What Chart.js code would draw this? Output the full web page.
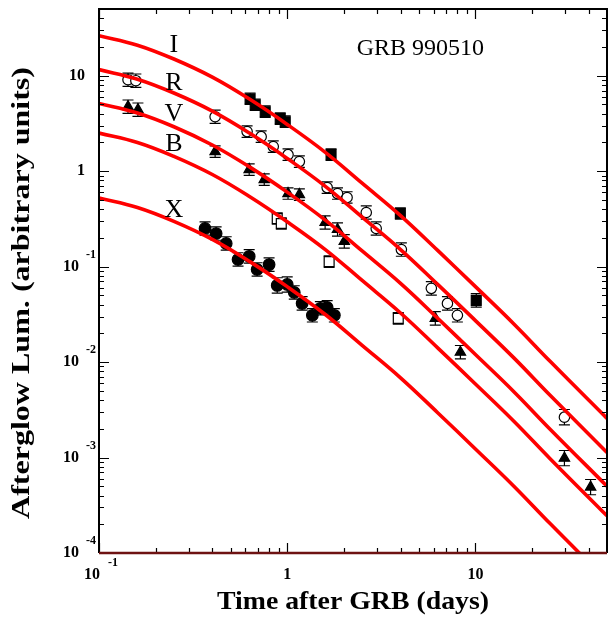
<!DOCTYPE html>
<html><head><meta charset="utf-8">
<script src="https://cdn.jsdelivr.net/npm/chart.js@4/dist/chart.umd.min.js"></script>
<style>html,body{margin:0;padding:0;background:#fff;}#wrap{width:608px;height:618px;}</style>
</head><body><div id="wrap"><canvas id="c" width="608" height="618"></canvas></div>
<script>
// ---- model curves ----
const curveDays = [0.1,0.16,0.25,0.4,0.63,1,1.6,2.5,4,6.3,10,16,25,50];
const curveI = [26.3,20.9,14.96,9.66,5.69,3.09,1.567,0.750,0.343,0.148,0.0617,0.0251,0.01012,0.00257];
const curveR = [11.59,9.20,6.59,4.26,2.51,1.36,0.690,0.330,0.151,0.0652,0.0272,0.01107,0.00446,0.00113];
const curveV = [5.13,4.07,2.92,1.88,1.109,0.603,0.305,0.146,0.0668,0.0288,0.0120,0.0049,0.00197,0.000501];
const curveB = [2.51,2.00,1.43,0.923,0.543,0.295,0.150,0.0716,0.0327,0.0141,0.00589,0.0024,0.000966,0.000245];
const curveX = [0.525,0.417,0.2985,0.193,0.1135,0.0617,0.0313,0.01496,0.00684,0.00295,0.00123,0.000501,0.000202,0.0000513];

// ---- observations ----
const daysI = [0.635,0.676,0.764,0.918,0.976,1.71,3.99,10.1];
const lumI  = [5.74,4.97,4.20,3.55,3.30,1.49,0.36,0.0443];
const errI  = [0.06,0.06,0.06,0.06,0.06,0.06,0.06,0.07];

const daysR = [0.1426,0.157,0.414,0.612,0.727,0.843,1.01,1.16,1.63,1.85,2.08,2.63,2.97,4.04,5.83,7.10,8.02,29.7];
const lumR  = [9.08,8.87,3.72,2.60,2.30,1.81,1.49,1.26,0.673,0.583,0.530,0.369,0.251,0.151,0.0592,0.0412,0.0309,0.00265];
const errR  = [0.07,0.07,0.07,0.06,0.06,0.06,0.06,0.06,0.06,0.06,0.06,0.07,0.07,0.07,0.07,0.07,0.07,0.08];

const daysV = [0.1426,0.161,0.414,0.628,0.755,1.01,1.16,1.59,1.85,2.01,6.12,8.32,29.7,40.9];
const lumV  = [4.74,4.41,1.60,1.04,0.817,0.583,0.569,0.290,0.245,0.184,0.0287,0.0127,0.000986,0.00049];
const errV  = [0.07,0.07,0.06,0.06,0.06,0.06,0.06,0.07,0.07,0.07,0.07,0.07,0.08,0.08];

const daysB = [0.885,0.93,1.67,3.89];
const lumB  = [0.319,0.283,0.113,0.0287];
const errB  = [0.06,0.06,0.06,0.06];

const daysX = [0.366,0.419,0.474,0.548,0.628,0.692,0.801,0.885,1.0,1.09,1.20,1.36,1.50,1.63,1.78];
const lumX  = [0.251,0.222,0.175,0.119,0.128,0.0935,0.105,0.0636,0.0651,0.0537,0.0412,0.0309,0.0366,0.0374,0.0309];
const errX  = [0.07,0.07,0.07,0.07,0.07,0.07,0.07,0.08,0.08,0.07,0.07,0.07,0.07,0.07,0.07];

// ---- tick labels ----
const xTickValues = [0.1,1,10];
const xTickBase   = ['10','1','10'];
const xTickExp    = ['-1','',''];
const yTickValues = [1e-4,1e-3,1e-2,0.1,1,10];
const yTickBase   = ['10','10','10','10','1','10'];
const yTickExp    = ['-4','-3','-2','-1','',''];

const bandNames = ['I','R','V','B','X'];
const xTitle = 'Time after GRB (days)';
const yTitle = 'Afterglow Lum. (arbitrary units)';
const plotTitle = 'GRB 990510';

const pts = (xs, ys) => xs.map((x,i)=>({x:x, y:ys[i]}));
const SERIF = '"Liberation Serif","Times New Roman",serif';

function curveSet(ys){
  return {data:pts(curveDays, ys), showLine:true, pointRadius:0, borderColor:'#ff0000',
    borderWidth:3.6, tension:0.4, fill:false, order:0, clip:0};
}
function pointSet(xs, ys, errs, style, radius, filled){
  return {data:pts(xs, ys), errs:errs, showLine:false, pointStyle:style, pointRadius:radius,
    backgroundColor: filled ? '#000' : '#fff', borderColor:'#000', borderWidth:1.2, order:1};
}

const errorBars = {
  id:'errorBars',
  beforeDatasetsDraw(chart){
    const ctx = chart.ctx, xs = chart.scales.x, ys = chart.scales.y;
    ctx.save();
    ctx.strokeStyle = '#000'; ctx.lineWidth = 1.2;
    chart.data.datasets.forEach(ds=>{
      if(!ds.errs) return;
      ds.data.forEach((p,i)=>{
        const e = ds.errs[i];
        const px = xs.getPixelForValue(p.x);
        const y1 = ys.getPixelForValue(p.y*Math.pow(10,e));
        const y2 = ys.getPixelForValue(p.y/Math.pow(10,e));
        ctx.beginPath();
        ctx.moveTo(px,y1); ctx.lineTo(px,y2);
        ctx.moveTo(px-5.5,y1); ctx.lineTo(px+5.5,y1);
        ctx.moveTo(px-5.5,y2); ctx.lineTo(px+5.5,y2);
        ctx.stroke();
      });
    });
    ctx.restore();
  }
};

function minorList(min, max){
  const out = [];
  for(let d=-6; d<=3; d++){
    for(let m=1; m<=9; m++){
      const v = m*Math.pow(10,d);
      if(v>=min*0.9999 && v<=max*1.0001) out.push({v:v, major:m===1});
    }
  }
  return out;
}

function stretchedText(ctx, text, cx, cy, length, rotate){
  ctx.save();
  ctx.translate(cx, cy);
  if(rotate) ctx.rotate(-Math.PI/2);
  const w = ctx.measureText(text).width;
  ctx.scale(length/w, 1);
  ctx.textAlign = 'center';
  ctx.fillText(text, 0, 0);
  ctx.restore();
}

const frame = {
  id:'frame',
  afterDatasetsDraw(chart){
    const ctx = chart.ctx, xs = chart.scales.x, ys = chart.scales.y, a = chart.chartArea;
    ctx.save();
    // ticks
    ctx.strokeStyle = '#000'; ctx.lineWidth = 1.2;
    minorList(xs.min, xs.max).forEach(t=>{
      const px = Math.round(xs.getPixelForValue(t.v))+0.5;
      const L = t.major ? 10 : 5;
      ctx.beginPath();
      ctx.moveTo(px,a.bottom); ctx.lineTo(px,a.bottom-L);
      ctx.moveTo(px,a.top); ctx.lineTo(px,a.top+L);
      ctx.stroke();
    });
    minorList(ys.min, ys.max).forEach(t=>{
      const py = Math.round(ys.getPixelForValue(t.v))+0.5;
      const L = t.major ? 10 : 5;
      ctx.beginPath();
      ctx.moveTo(a.left,py); ctx.lineTo(a.left+L,py);
      ctx.moveTo(a.right,py); ctx.lineTo(a.right-L,py);
      ctx.stroke();
    });
    // frame lines
    ctx.lineWidth = 2;
    ctx.strokeStyle = '#000';
    ctx.beginPath();
    ctx.moveTo(a.left,a.bottom); ctx.lineTo(a.left,a.top); ctx.lineTo(a.right,a.top); ctx.lineTo(a.right,a.bottom);
    ctx.stroke();
    ctx.strokeStyle = '#6e1212'; ctx.lineWidth = 2.5;
    ctx.beginPath(); ctx.moveTo(a.left,a.bottom); ctx.lineTo(a.right,a.bottom); ctx.stroke();

    // tick labels
    ctx.fillStyle = '#000';
    ctx.textBaseline = 'middle';
    xTickValues.forEach((v,i)=>{
      const px = xs.getPixelForValue(v);
      ctx.font = 'bold 16px '+SERIF;
      if(xTickExp[i]){
        ctx.textAlign = 'center';
        ctx.fillText(xTickBase[i], px-7, a.bottom+22);
        ctx.font = 'bold 12px '+SERIF;
        ctx.textAlign = 'left';
        ctx.fillText(xTickExp[i], px+9, a.bottom+10);
      } else {
        ctx.textAlign = 'center';
        ctx.fillText(xTickBase[i], px, a.bottom+22);
      }
    });
    yTickValues.forEach((v,i)=>{
      const py = ys.getPixelForValue(v);
      ctx.font = 'bold 16px '+SERIF;
      if(yTickExp[i]){
        ctx.textAlign = 'right';
        ctx.fillText(yTickBase[i], a.left-20, py);
        ctx.font = 'bold 12px '+SERIF;
        ctx.textAlign = 'left';
        ctx.fillText(yTickExp[i], a.left-13, py-12);
      } else {
        ctx.textAlign = 'right';
        ctx.fillText(yTickBase[i], a.left-14, py);
      }
    });

    // axis titles
    ctx.font = 'bold 26px '+SERIF;
    stretchedText(ctx, xTitle, 353, 602, 272, false);
    stretchedText(ctx, yTitle, 22, 293, 452, true);

    // in-plot labels
    ctx.font = '26px '+SERIF;
    ctx.textAlign = 'center';
    const labY = [21.1, 8.45, 4.0, 1.90, 0.387];
    bandNames.forEach((n,i)=>{
      ctx.fillText(n, xs.getPixelForValue(0.25), ys.getPixelForValue(labY[i]));
    });
    ctx.font = '24px '+SERIF;
    ctx.fillText(plotTitle, xs.getPixelForValue(5.1), ys.getPixelForValue(19.1));
    ctx.restore();
  }
};

new Chart(document.getElementById('c').getContext('2d'), {
  type:'scatter',
  data:{datasets:[
    curveSet(curveI), curveSet(curveR), curveSet(curveV), curveSet(curveB), curveSet(curveX),
    pointSet(daysI, lumI, errI, 'rect', 7, true),
    pointSet(daysR, lumR, errR, 'circle', 5.2, false),
    pointSet(daysV, lumV, errV, 'triangle', 6, true),
    pointSet(daysB, lumB, errB, 'rect', 7, false),
    pointSet(daysX, lumX, errX, 'circle', 5.8, true)
  ]},
  options:{
    responsive:false, animation:false, devicePixelRatio:1,
    layout:{autoPadding:false, padding:{left:99,right:1,top:9,bottom:65}},
    plugins:{legend:{display:false}, tooltip:{enabled:false}},
    scales:{
      x:{type:'logarithmic', min:0.1, max:50, display:false},
      y:{type:'logarithmic', min:1e-4, max:50, display:false}
    }
  },
  plugins:[errorBars, frame]
});
</script></body></html>
